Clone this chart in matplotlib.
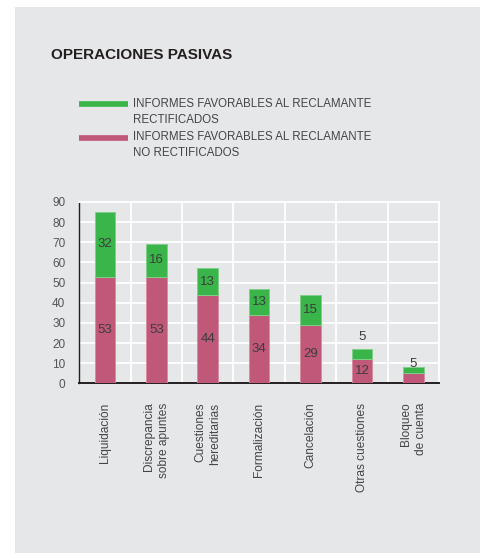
import numpy as np
import matplotlib.pyplot as plt
from matplotlib.patches import Rectangle
from matplotlib.lines import Line2D

# Categories and values
categories = ['Liquidación', 'Discrepancia\nsobre apuntes', 'Cuestiones\nhereditarias',
              'Formalización', 'Cancelación', 'Otras cuestiones', 'Bloqueo\nde cuenta']
no_rectificados = [53, 53, 44, 34, 29, 12, 5]
rectificados = [32, 16, 13, 13, 15, 5, 3]
yticks = [0, 10, 20, 30, 40, 50, 60, 70, 80, 90]

title = 'OPERACIONES PASIVAS'
label_rect = 'INFORMES FAVORABLES AL RECLAMANTE\nRECTIFICADOS'
label_norect = 'INFORMES FAVORABLES AL RECLAMANTE\nNO RECTIFICADOS'

green = '#39b54a'
pink = '#c0587a'
panel = '#e6e7e8'
text_col = '#3c3c3c'

plt.rcParams['font.family'] = ['Liberation Sans', 'DejaVu Sans']

W, H = 481, 553
fig = plt.figure(figsize=(W / 100, H / 100), dpi=100)
fig.patch.set_facecolor('white')

# grey panel behind everything
fig.patches.append(Rectangle((15 / W, 0), 1 - 15 / W, 1 - 7 / H,
                             transform=fig.transFigure, facecolor=panel,
                             edgecolor='none', zorder=-5))

ax = fig.add_axes([79.3 / W, 1 - 383.3 / H, (439 - 79.3) / W, (383.3 - 202) / H])
ax.set_facecolor(panel)

x = np.arange(len(categories))
ax.bar(x, no_rectificados, width=0.4, color=pink, edgecolor='#d98ca3', linewidth=0.7, zorder=3)
ax.bar(x, rectificados, width=0.4, bottom=no_rectificados, color=green,
       edgecolor='#80cf89', linewidth=0.7, zorder=3)

# value labels
for i in range(len(categories)):
    nr = no_rectificados[i]
    r = rectificados[i]
    if nr >= 8:
        ax.text(x[i], nr / 2, str(nr), ha='center', va='center', fontsize=9.5, color=text_col, zorder=4)
    if r >= 8:
        ax.text(x[i], nr + r / 2, str(r), ha='center', va='center', fontsize=9.5, color=text_col, zorder=4)
    elif nr >= 8:
        ax.text(x[i], nr + r + 6, str(r), ha='center', va='center', fontsize=9.5, color=text_col, zorder=4)
    else:
        ax.text(x[i], nr + r + 1.7, str(nr), ha='center', va='center', fontsize=9.5, color=text_col, zorder=4)

ax.set_xlim(-0.5, len(categories) - 0.5)
ax.set_ylim(0, 90)
ax.set_yticks(yticks)
ax.set_xticks(x)
ax.set_xticklabels(categories, rotation=90, multialignment='right', linespacing=1.3)
ax.set_xticks(x[:-1] + 0.5, minor=True)
ax.tick_params(axis='x', which='both', length=0, pad=14, labelsize=8.6, labelcolor='#444444')
ax.tick_params(axis='y', length=0, pad=10, labelsize=8.5, labelcolor='#555555')

ax.grid(axis='y', color='white', linewidth=1.3, zorder=1)
ax.grid(axis='x', which='minor', color='white', linewidth=1.3, zorder=1)
ax.set_axisbelow(True)

for s in ['top', 'right']:
    ax.spines[s].set_color('white')
    ax.spines[s].set_linewidth(1.3)
ax.spines['left'].set_color('#231f20')
ax.spines['left'].set_linewidth(1.0)
ax.spines['bottom'].set_color('#231f20')
ax.spines['bottom'].set_linewidth(1.4)

# title
fig.text(51 / W, 1 - 55 / H, title, fontsize=11, fontweight='bold', color='#231f20',
         ha='left', va='center')

# legend
for y_line, col, lab in [(104, green, label_rect), (137.5, pink, label_norect)]:
    fig.add_artist(Line2D([79 / W, 128 / W], [1 - y_line / H, 1 - y_line / H],
                          color=col, linewidth=4.1, solid_capstyle='butt',
                          transform=fig.transFigure))
    fig.text(133 / W, 1 - (y_line - 6) / H, lab, fontsize=8.3, color='#444444',
             ha='left', va='top', linespacing=1.4)

fig.savefig('out.png', dpi=100)
